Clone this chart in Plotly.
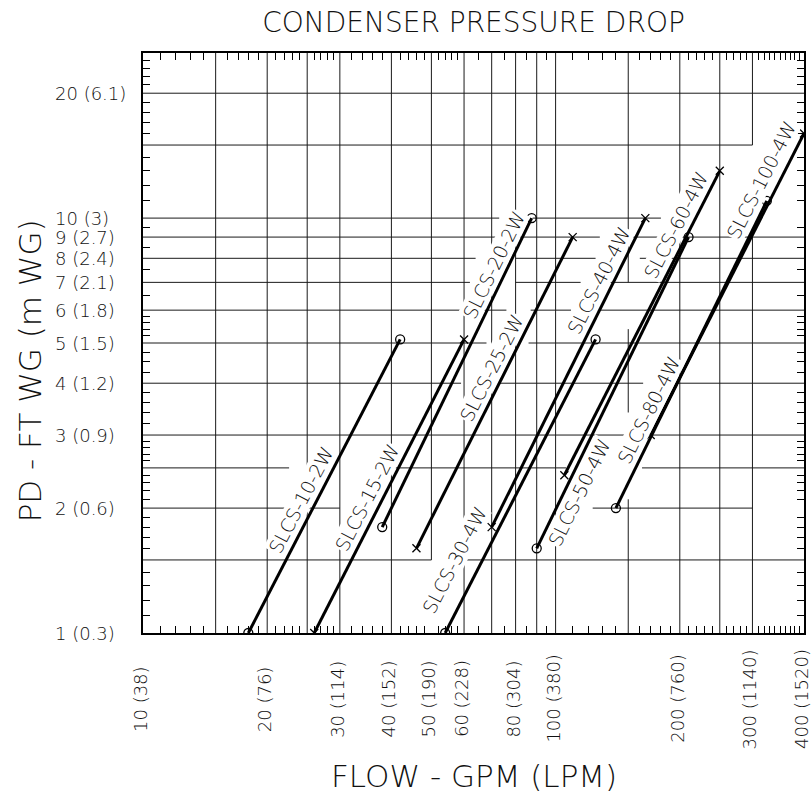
import numpy as np
import plotly.graph_objects as go

# ---------------- data ----------------
models = ["SLCS-10-2W", "SLCS-15-2W", "SLCS-20-2W", "SLCS-25-2W", "SLCS-30-4W",
          "SLCS-40-4W", "SLCS-50-4W", "SLCS-60-4W", "SLCS-80-4W", "SLCS-100-4W"]
flow_start = [18, 26, 38, 46, 54, 70, 90, 105, 140, 170]          # GPM
flow_end = [42, 60, 87.5, 110, 125, 165, 210, 250, 325, 400]       # GPM
pd_start = [1.0, 1.0, 1.8, 1.6, 1.0, 1.8, 1.6, 2.4, 2.0, 3.0]      # ft WG
pd_end = [5.1, 5.1, 10.0, 9.0, 5.1, 10.0, 9.0, 13.0, 11.0, 16.0]   # ft WG
end_symbols = ["circle-open", "x-thin-open", "circle-open", "x-thin-open", "circle-open",
               "x-thin-open", "circle-open", "x-thin-open", "circle-open", "x-thin-open"]

# label placement: fraction along the curve, and side offset in px (+ = upper-left side)
label_t = [0.43, 0.44, 0.83, 0.56, 0.21, 0.78, 0.20, 0.80, 0.30, 0.82]
label_side = [14, 14, 14, 14, 25, 14, -14, 14, 14, 17]

x_tick_vals = [10, 20, 30, 40, 50, 60, 80, 100, 200, 300, 400]
x_tick_text = ["10 (38)", "20 (76)", "30 (114)", "40 (152)", "50 (190)", "60 (228)",
               "80 (304)", "100 (380)", "200 (760)", "300 (1140)", "400 (1520)"]
y_tick_vals = [1, 2, 3, 4, 5, 6, 7, 8, 9, 10, 20]
y_tick_text = ["1 (0.3)", "2 (0.6)", "3 (0.9)", "4 (1.2)", "5 (1.5)", "6 (1.8)",
               "7 (2.1)", "8 (2.4)", "9 (2.7)", "10 (3)", "20 (6.1)"]

x_minor = [11, 12, 13, 14, 16, 17, 18, 19, 21, 22, 23, 24, 26, 27, 28, 29,
           32, 34, 36, 38, 42, 44, 46, 48, 52, 54, 56, 58, 65, 75, 85, 95,
           110, 120, 130, 140, 160, 170, 180, 190, 210, 220, 230, 240,
           260, 270, 280, 290, 310, 320, 330, 340, 350, 360, 370, 380, 390]
y_minor = [1.1, 1.2, 1.3, 1.4, 1.6, 1.7, 1.8, 1.9, 2.1, 2.2, 2.3, 2.4,
           2.6, 2.7, 2.8, 2.9, 3.2, 3.4, 3.6, 3.8, 4.25, 4.5, 4.75,
           5.2, 5.4, 5.6, 5.8, 6.5, 7.5, 8.5, 9.5, 11, 12, 13, 14,
           16, 17, 18, 19, 21, 22, 23, 24]

X_MIN, X_MAX = 10, 400
Y_MIN, Y_MAX = 1, 25

# drafted grid: horizontal lines at PD values (spans in GPM), vertical at GPM (spans in PD)
h_grid = {
    20: [(10, 400)],
    15: [(10, 300)],
    10: [(10, 73), (88, 180)],
    9: [(10, 73), (79, 128), (140, 400)],
    8: [(10, 64), (80, 125), (160, 400)],
    7: [(10, 62), (80, 115), (128, 400)],
    6: [(10, 76), (87, 109), (128, 400)],
    5: [(10, 68), (86, 400)],
    4: [(10, 59), (73, 163), (196, 400)],
    3: [(10, 400)],
    2.5: [(10, 22.6), (41, 106), (162, 400)],
    2: [(10, 30), (123, 300)],
    1.5: [(10, 50), (60, 400)],
}
v_grid = {
    15: [(1, 25)], 20: [(1, 25)], 25: [(1, 25)], 30: [(1, 25)], 40: [(1, 25)],
    50: [(1.5, 25)], 60: [(1, 25)], 70: [(1, 25)], 80: [(1, 25)], 90: [(1, 25)],
    100: [(1, 25)], 150: [(1, 2.1), (3.4, 5.4), (7, 25)], 200: [(1, 25)],
    250: [(1, 25)], 300: [(1, 9), (15, 25)],
}

FONT = "DejaVu Sans, Liberation Sans, Arial, sans-serif"
INK = "#111111"
W_FONT = 200

LX = np.log10(X_MAX / X_MIN)
LY = np.log10(Y_MAX / Y_MIN)


def fx(v):
    return float(np.log10(v / X_MIN) / LX)


def fy(v):
    return float(np.log10(v / Y_MIN) / LY)


fig = go.Figure()

for name, fs, fe, ps, pe, sym in zip(models, flow_start, flow_end, pd_start, pd_end, end_symbols):
    fig.add_trace(go.Scatter(
        x=[fs, fe], y=[ps, pe], mode="lines+markers", name=name,
        line=dict(color="black", width=3),
        marker=dict(symbol=sym, size=9 if "circle" in sym else 8, color="black",
                    line=dict(color="black", width=1.3)),
        showlegend=False, hoverinfo="x+y+name",
    ))

# invisible trace for the tick-only overlay axes
fig.add_trace(go.Scatter(x=[X_MIN], y=[Y_MIN], xaxis="x2", yaxis="y2", mode="markers",
                         marker=dict(opacity=0), showlegend=False, hoverinfo="skip"))

shapes = []
for val, spans in h_grid.items():
    for a, b in spans:
        shapes.append(dict(type="line", xref="x domain", yref="y domain",
                           x0=fx(a), x1=fx(b), y0=fy(val), y1=fy(val), layer="below",
                           line=dict(color="#1a1a1a", width=1)))
for val, spans in v_grid.items():
    for a, b in spans:
        shapes.append(dict(type="line", xref="x domain", yref="y domain",
                           x0=fx(val), x1=fx(val), y0=fy(a), y1=fy(b), layer="below",
                           line=dict(color="#1a1a1a", width=1)))

xr = [np.log10(X_MIN), np.log10(X_MAX)]
yr = [np.log10(Y_MIN), np.log10(Y_MAX)]

fig.update_layout(
    width=811, height=796,
    margin=dict(l=143, r=5, t=53, b=163),
    paper_bgcolor="white", plot_bgcolor="white",
    font=dict(family=FONT, color=INK, size=17, weight=W_FONT),
    shapes=shapes,
    xaxis=dict(type="log", range=xr, showgrid=False, ticks="", showticklabels=False,
               showline=True, linecolor="black", linewidth=1.5, mirror=True, zeroline=False),
    yaxis=dict(type="log", range=yr, showgrid=False, ticks="", showticklabels=False,
               showline=True, linecolor="black", linewidth=1.5, mirror=True, zeroline=False),
    xaxis2=dict(type="log", range=xr, overlaying="x", side="bottom", anchor="y2",
                tickmode="array", tickvals=x_minor, ticks="inside", ticklen=7,
                tickcolor="black", tickwidth=1, showticklabels=False, showgrid=False,
                showline=True, linecolor="black", linewidth=1.5, mirror="allticks",
                zeroline=False),
    yaxis2=dict(type="log", range=yr, overlaying="y", side="left", anchor="x2",
                tickmode="array", tickvals=y_minor, ticks="inside", ticklen=7,
                tickcolor="black", tickwidth=1, showticklabels=False, showgrid=False,
                showline=True, linecolor="black", linewidth=1.5, mirror="allticks",
                zeroline=False),
    title=dict(text="CONDENSER PRESSURE DROP", x=0.5, xref="paper", xanchor="center",
               y=1 - 22 / 796, yref="container", yanchor="middle",
               font=dict(family=FONT, size=28, color=INK, weight=W_FONT)),
)

plot_h = 796 - 53 - 163
plot_w = 811 - 143 - 5

annotations = []
# y tick labels (left aligned, as in the drawing)
for v, t in zip(y_tick_vals, y_tick_text):
    annotations.append(dict(text=t, xref="paper", x=(53 - 143) / plot_w, xanchor="left",
                            yref="y", y=np.log10(v), yanchor="middle", showarrow=False,
                            font=dict(size=18)))
# x tick labels (vertical)
for v, t in zip(x_tick_vals, x_tick_text):
    annotations.append(dict(text=t, xref="x", x=np.log10(v), xanchor="center", xshift=-3,
                            yref="paper", y=(633 - 699) / plot_h, yanchor="middle",
                            textangle=-90, showarrow=False, font=dict(size=18)))
# axis titles
annotations.append(dict(text="FLOW - GPM (LPM)", xref="paper", x=0.5, xanchor="center",
                        yref="paper", y=(633 - 776) / plot_h, yanchor="middle",
                        showarrow=False, font=dict(size=31)))
annotations.append(dict(text="PD - FT WG (m WG)", xref="paper", x=(30 - 143) / plot_w,
                        xanchor="center", yref="paper", y=(633 - 371) / plot_h,
                        yanchor="middle", textangle=-90, showarrow=False, font=dict(size=31)))
# model labels running alongside their curves
for name, t, d, fs, fe, ps, pe in zip(models, label_t, label_side,
                                      flow_start, flow_end, pd_start, pd_end):
    lx = np.log10(fs) + t * np.log10(fe / fs)
    ly = np.log10(ps) + t * np.log10(pe / ps)
    a = np.arctan2(np.log10(pe / ps), np.log10(fe / fs))
    annotations.append(dict(text=name, xref="x", x=lx, yref="y", y=ly,
                            xanchor="center", yanchor="middle", textangle=-np.degrees(a),
                            xshift=-d * np.sin(a), yshift=d * np.cos(a),
                            showarrow=False, bgcolor="white", borderpad=0,
                            font=dict(size=19)))

fig.update_layout(annotations=annotations)

fig.write_html("out.html", config={"displayModeBar": False},
               post_script="document.body.style.margin='0px';")
